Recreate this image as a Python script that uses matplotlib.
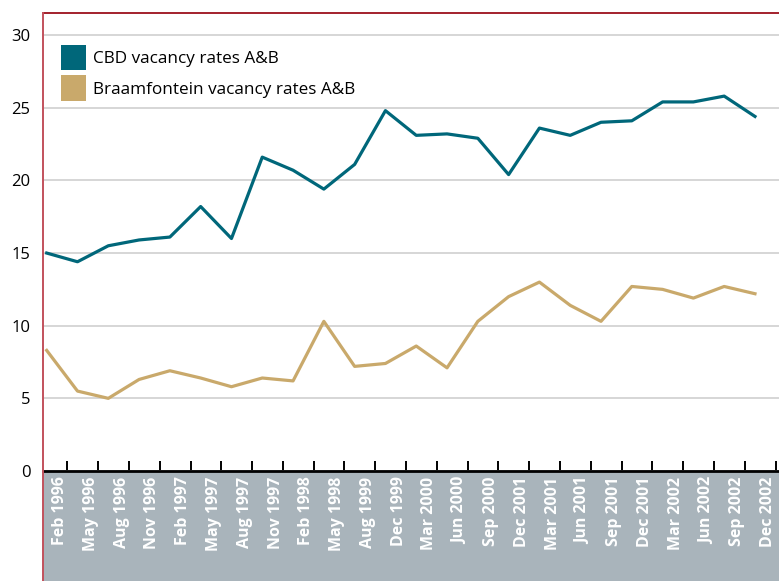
import matplotlib.pyplot as plt
from matplotlib.patches import Patch, Rectangle
from matplotlib.lines import Line2D

plt.rcParams['font.family'] = ['Open Sans', 'DejaVu Sans']

# quarterly labels as printed on the chart
labels = ["Feb 1996", "May 1996", "Aug 1996", "Nov 1996", "Feb 1997", "May 1997",
          "Aug 1997", "Nov 1997", "Feb 1998", "May 1998", "Aug 1999", "Dec 1999",
          "Mar 2000", "Jun 2000", "Sep 2000", "Dec 2001", "Mar 2001", "Jun 2001",
          "Sep 2001", "Dec 2001", "Mar 2002", "Jun 2002", "Sep 2002", "Dec 2002"]

cbd = [15.0, 14.4, 15.5, 15.9, 16.1, 18.2, 16.0, 21.6, 20.7, 19.4, 21.1, 24.8,
       23.1, 23.2, 22.9, 20.4, 23.6, 23.1, 24.0, 24.1, 25.4, 25.4, 25.8, 24.4]
braam = [8.3, 5.5, 5.0, 6.3, 6.9, 6.4, 5.8, 6.4, 6.2, 10.3, 7.2, 7.4,
         8.6, 7.1, 10.3, 12.0, 13.0, 11.4, 10.3, 12.7, 12.5, 11.9, 12.7, 12.2]

teal = "#00677a"
sand = "#c9a96b"
grey = "#a9b4bb"

W, H = 779, 581
fig = plt.figure(figsize=(W / 100, H / 100), dpi=100)
ax = fig.add_axes([43 / W, 110 / H, 736 / W, 458 / H])

x = list(range(len(labels)))
ax.plot(x, cbd, color=teal, lw=2.3, zorder=3)
ax.plot(x, braam, color=sand, lw=2.3, zorder=3)

ax.set_xlim(-0.12, 23.78)
ax.set_ylim(0, 31.52)
ax.set_yticks([0, 5, 10, 15, 20, 25, 30])
ax.tick_params(axis='y', length=0, labelsize=12, pad=9)
ax.yaxis.grid(True, color="#d6d6d6", lw=1.4)
ax.set_axisbelow(True)

# tick marks sit between the points, labels a little left of them
ax.set_xticks([i + 0.67 for i in x])
ax.set_xticklabels([])
ax.tick_params(axis='x', which='major', direction='in', length=7, width=1.4, color='black')
ax.set_xticks([i + 0.43 for i in x], minor=True)
ax.set_xticklabels(labels, minor=True, rotation=90, color='white',
                   fontweight='bold', fontsize=11.5, va='top', ha='center')
ax.tick_params(axis='x', which='minor', length=0, pad=4)

ax.spines['right'].set_visible(False)
ax.spines['left'].set_visible(False)
ax.spines['top'].set_color("#a3202c")
ax.spines['top'].set_linewidth(1.4)
ax.spines['bottom'].set_color('black')
ax.spines['bottom'].set_linewidth(2)

# grey band under the axis and red rule down the left side
fig.add_artist(Rectangle((43 / W, 0), 736 / W, 110 / H, transform=fig.transFigure,
                         facecolor=grey, edgecolor='none', zorder=-1))
fig.add_artist(Line2D([43 / W, 43 / W], [0, 568 / H], transform=fig.transFigure,
                      color="#c2515c", lw=1.4, zorder=5))

handles = [Patch(facecolor=teal, edgecolor='none'), Patch(facecolor=sand, edgecolor='none')]
fig.legend(handles, ["CBD vacancy rates A&B", "Braamfontein vacancy rates A&B"],
           loc='upper left', bbox_to_anchor=(61 / W, 1 - 45 / H), frameon=False,
           fontsize=12.3, handlelength=1.47, handleheight=1.9, handletextpad=0.4,
           labelspacing=0.3, borderpad=0, borderaxespad=0)

fig.savefig("out.png", dpi=100)
